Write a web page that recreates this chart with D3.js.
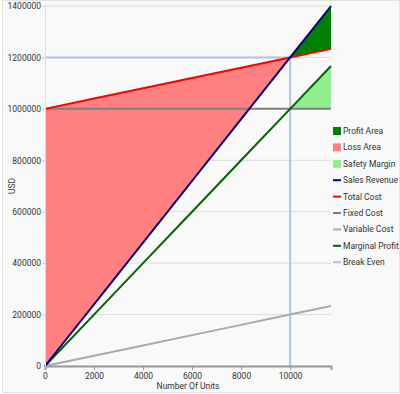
<!DOCTYPE html>
<html>
<head>
<meta charset="utf-8">
<script src="https://cdn.jsdelivr.net/npm/d3@7"></script>
<style>
  body { margin: 0; background: #fff; }
  svg text { font-family: Roboto, "Noto Sans", sans-serif; fill: #333; }
</style>
</head>
<body>
<div id="chart"></div>
<script>
// data
var units         = [0, 2000, 4000, 6000, 8000, 10000, 11667];
var salesRevenue  = [0, 240000, 480000, 720000, 960000, 1200000, 1400000];
var totalCost     = [1000000, 1040000, 1080000, 1120000, 1160000, 1200000, 1233333];
var fixedCost     = [1000000, 1000000, 1000000, 1000000, 1000000, 1000000, 1000000];
var variableCost  = [0, 40000, 80000, 120000, 160000, 200000, 233333];
var marginalProfit= [0, 200000, 400000, 600000, 800000, 1000000, 1166667];
var breakEvenUnits = 10000, breakEvenUSD = 1200000;
var xTicks = [0, 2000, 4000, 6000, 8000, 10000];
var yTicks = [0, 200000, 400000, 600000, 800000, 1000000, 1200000, 1400000];

var legendNames = ["Profit Area","Loss Area","Safety Margin","Sales Revenue","Total Cost","Fixed Cost","Variable Cost","Marginal Profit","Break Even"];
var legendColors = ["#008000","#ff8080","#90ee90","#000080","#ff0000","#808080","#a9a9a9","#006400","#b0c4de"];
var legendKinds = ["area","area","area","line","line","line","line","line","line"];

var W = 400, H = 394;
var margin = {top: 6, right: 69, bottom: 28, left: 45},
    width = W - margin.left - margin.right;
var fs = 8.5;

var svg = d3.select("#chart").append("svg")
  .attr("width", W).attr("height", H);

svg.append("rect").attr("x", 0).attr("y", 0).attr("width", W).attr("height", H).attr("fill", "#fff");
svg.append("rect").attr("x", 2.5).attr("y", 0.5).attr("width", W - 3).attr("height", H - 2)
  .attr("fill", "#f9f9f9").attr("stroke", "#e3e3e3");

var g = svg.append("g").attr("transform", "translate(" + margin.left + "," + margin.top + ")");

var x = d3.scaleLinear().domain([0, d3.max(units)]).range([0, width]);
var y = d3.scaleLinear().domain([0, 1400000]).range([360, 0]);

// gridlines
g.append("g").selectAll("line").data(yTicks).enter().append("line")
  .attr("x1", 0).attr("x2", width)
  .attr("y1", function(d){ return y(d); }).attr("y2", function(d){ return y(d); })
  .attr("stroke", "#dcdcdc").attr("stroke-width", 1);

var rows = units.map(function(u, i){
  return {u: u, s: salesRevenue[i], t: totalCost[i], f: fixedCost[i], v: variableCost[i], m: marginalProfit[i]};
});
var beIdx = units.indexOf(breakEvenUnits);
var before = rows.slice(0, beIdx + 1), after = rows.slice(beIdx);

// loss area
g.append("path").datum(before)
  .attr("fill", "#ff8080")
  .attr("d", d3.area().x(function(d){ return x(d.u); }).y0(function(d){ return y(d.s); }).y1(function(d){ return y(d.t); }));
// profit area
g.append("path").datum(after)
  .attr("fill", "#008000")
  .attr("d", d3.area().x(function(d){ return x(d.u); }).y0(function(d){ return y(d.t); }).y1(function(d){ return y(d.s); }));
// safety margin
g.append("path").datum(after)
  .attr("fill", "#90ee90")
  .attr("d", d3.area().x(function(d){ return x(d.u); }).y0(function(d){ return y(d.f); }).y1(function(d){ return y(d.m); }));

// break even lines
g.append("line").attr("x1", 0).attr("x2", x(breakEvenUnits))
  .attr("y1", y(breakEvenUSD)).attr("y2", y(breakEvenUSD))
  .attr("stroke", "#b0c4de").attr("stroke-width", 2);
g.append("line").attr("x1", x(breakEvenUnits)).attr("x2", x(breakEvenUnits))
  .attr("y1", y(breakEvenUSD)).attr("y2", y(0))
  .attr("stroke", "#b0c4de").attr("stroke-width", 2);

function drawLine(key, color){
  g.append("path").datum(rows)
    .attr("fill", "none").attr("stroke", color).attr("stroke-width", 2)
    .attr("d", d3.line().x(function(d){ return x(d.u); }).y(function(d){ return y(d[key]); }));
}
drawLine("v", "#a9a9a9");
drawLine("f", "#808080");
drawLine("m", "#006400");
drawLine("t", "#ff0000");
drawLine("s", "#000080");

// axes
var xAxis = g.append("g").attr("transform", "translate(0," + y(0) + ")")
  .call(d3.axisBottom(x).tickValues(xTicks).tickFormat(d3.format("d")).tickSize(4));
xAxis.select(".domain").attr("stroke", "#999").attr("stroke-width", 2);
xAxis.selectAll(".tick line").attr("stroke", "#999");
xAxis.selectAll("text").attr("font-size", fs).attr("fill", "#333");

var yAxis = g.append("g")
  .call(d3.axisLeft(y).tickValues(yTicks).tickFormat(d3.format("d")).tickSize(3).tickPadding(1));
yAxis.select(".domain").attr("stroke", "#ddd");
yAxis.selectAll(".tick line").attr("stroke", "#ccc");
yAxis.selectAll("text").attr("font-size", fs).attr("fill", "#333");

svg.append("text").attr("x", margin.left + width / 2).attr("y", 389)
  .attr("text-anchor", "middle").attr("font-size", fs).text("Number Of Units");
svg.append("text").attr("transform", "translate(15," + (margin.top + 180) + ") rotate(-90)")
  .attr("text-anchor", "middle").attr("font-size", fs).text("USD");

// legend
var leg = svg.append("g").attr("transform", "translate(333,131)");
var item = leg.selectAll("g").data(legendNames).enter().append("g")
  .attr("transform", function(d, i){ return "translate(0," + (i * 16.4) + ")"; });
item.append("rect")
  .attr("x", 0)
  .attr("y", function(d, i){ return legendKinds[i] === "area" ? -4 : -1; })
  .attr("width", 8)
  .attr("height", function(d, i){ return legendKinds[i] === "area" ? 8 : 2; })
  .attr("fill", function(d, i){ return legendColors[i]; });
item.append("text").attr("x", 10).attr("y", 0).attr("dy", "0.35em")
  .attr("font-size", fs).text(function(d){ return d; });
</script>
</body>
</html>
